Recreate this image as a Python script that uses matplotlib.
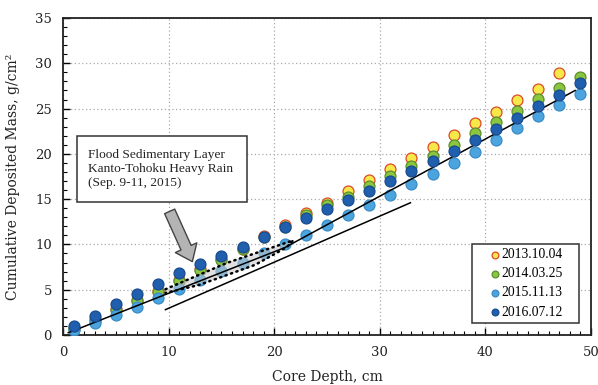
import matplotlib
matplotlib.use("Agg")
import matplotlib.pyplot as plt
from matplotlib.patches import Rectangle, Polygon
from matplotlib.ticker import MultipleLocator

depth = [1, 3, 5, 7, 9, 11, 13, 15, 17, 19, 21, 23, 25, 27, 29, 31, 33, 35, 37, 39, 41, 43, 45, 47, 49]
mass_2013 = [0.8, 1.8, 2.9, 3.9, 4.9, 6.1, 7.3, 8.4, 9.5, 10.9, 12.1, 13.5, 14.6, 15.9, 17.1, 18.3,
             19.5, 20.8, 22.1, 23.4, 24.6, 25.9, 27.2, 28.9]
mass_2014 = [0.7, 1.6, 2.8, 3.7, 4.8, 6.0, 7.2, 8.3, 9.5, 10.8, 11.9, 13.2, 14.3, 15.2, 16.4, 17.5,
             18.7, 19.8, 21.0, 22.3, 23.5, 24.7, 26.1, 27.3, 28.5]
mass_2015 = [0.55, 1.3, 2.2, 3.1, 4.05, 5.05, 6.1, 7.1, 8.0, 9.0, 10.0, 11.0, 12.1, 13.2, 14.3, 15.5,
             16.7, 17.8, 19.0, 20.2, 21.5, 22.8, 24.2, 25.4, 26.6]
mass_2016 = [0.95, 2.1, 3.4, 4.5, 5.6, 6.8, 7.8, 8.75, 9.7, 10.8, 11.9, 12.9, 13.9, 14.9, 15.9, 17.0,
             18.1, 19.2, 20.3, 21.5, 22.7, 24.0, 25.3, 26.5, 27.8]
labels = ["2013.10.04", "2014.03.25", "2015.11.13", "2016.07.12"]

# fitted lines
line_long_x = [0.5, 21.0, 48.5]
line_long_y = [0.25, 9.65, 27.0]
line_short_x = [9.7, 32.9]
line_short_y = [2.8, 14.6]

# flood layer outline
flood_x = [9.7, 15.5, 21.8, 21.2, 18.2, 15.0, 12.8, 9.7]
flood_y = [5.05, 7.95, 10.45, 9.7, 7.75, 6.4, 5.5, 4.65]

annot_lines = ["Flood Sedimentary Layer", "Kanto-Tohoku Heavy Rain", "(Sep. 9-11, 2015)"]

fig = plt.figure(figsize=(5.98, 3.85), dpi=100)
ax = fig.add_axes([63/598, 1-335/385, 528/598, 317/385])

ax.set_xlim(0, 50)
ax.set_ylim(0, 35)
ax.xaxis.set_major_locator(MultipleLocator(10))
ax.yaxis.set_major_locator(MultipleLocator(5))
ax.xaxis.set_minor_locator(MultipleLocator(1))
ax.yaxis.set_minor_locator(MultipleLocator(1))
ax.tick_params(which='both', direction='in', top=False, right=False, labelsize=9.5)
ax.tick_params(which='major', length=5, width=1)
ax.tick_params(which='minor', length=3, width=0.8)
ax.tick_params(axis='x', pad=8)
ax.tick_params(axis='y', pad=8)
for lab in ax.get_xticklabels() + ax.get_yticklabels():
    lab.set_family('DejaVu Serif')
    lab.set_color('#222222')
ax.grid(True, which='major', linestyle=(0, (1, 2)), color='#aaaaaa', linewidth=0.9)
ax.set_axisbelow(True)
for s in ax.spines.values():
    s.set_linewidth(1.3)
    s.set_color('#222222')

ax.plot(line_long_x, line_long_y, color='black', lw=1.1, zorder=6)
ax.plot(line_short_x, line_short_y, color='black', lw=1.1, zorder=6)

styles = [
    ('#f7e84a', '#dc4a2a'),
    ('#8cc63e', '#5b8e2c'),
    ('#4ba4de', '#3a8cc6'),
    ('#1f5fae', '#184c8e'),
]
series = [mass_2013, mass_2014, mass_2015, mass_2016]
handles = []
for i, (vals, (fc, ec), lab) in enumerate(zip(series, styles, labels)):
    h = ax.scatter(depth[:len(vals)], vals, s=62, facecolor=fc, edgecolor=ec,
                   linewidth=0.9, zorder=3 + i, label=lab)
    handles.append(h)

poly = Polygon(list(zip(flood_x, flood_y)), closed=True, facecolor='#c8c8c8', alpha=0.55,
               edgecolor='none', zorder=5.2)
ax.add_patch(poly)
ax.plot(flood_x, flood_y, color='black', lw=1.8, linestyle=(0, (0.5, 1.8)),
        dash_capstyle='round', zorder=5.3)

ax.annotate('', xy=(12.25, 8.1), xytext=(10.1, 13.65),
            arrowprops=dict(arrowstyle='simple,head_width=1.7,head_length=1.1,tail_width=0.8',
                            fc='#b4b4b4', ec='#444444', lw=1.0, shrinkA=0, shrinkB=0,
                            mutation_scale=10), zorder=7)

box = Rectangle((0.027, 0.4205), 0.321, 0.2075, transform=ax.transAxes, facecolor='white',
                edgecolor='#333333', lw=1.1, zorder=8)
ax.add_patch(box)
for txt, yy in zip(annot_lines, [0.568, 0.523, 0.478]):
    ax.text(0.047, yy, txt, transform=ax.transAxes, family='Liberation Serif', fontsize=9.6,
            va='center', ha='left', color='#222222', zorder=9)

# legend box
lbox = Rectangle(((472.3-63)/528, (335-322.7)/317), (579-472.3)/528, (322.7-244)/317,
                 transform=ax.transAxes, facecolor='white', edgecolor='#333333', lw=1.1, zorder=9)
ax.add_patch(lbox)
leg = ax.legend(handles=handles, loc='center', bbox_to_anchor=(0.876, 0.163),
                prop={'family': 'Liberation Serif', 'size': 9.8}, frameon=False,
                handletextpad=0.0, handlelength=1.0, markerscale=0.62,
                labelspacing=0.45, borderpad=0.2, borderaxespad=0)
leg.set_zorder(10)

ax.set_xlabel('Core Depth, cm', family='DejaVu Serif', fontsize=10, labelpad=8, color='#222222')
ax.set_ylabel('Cumulative Deposited Mass, g/cm²', family='DejaVu Serif', fontsize=10,
              labelpad=11, color='#222222')

fig.savefig('out.png', dpi=100)
